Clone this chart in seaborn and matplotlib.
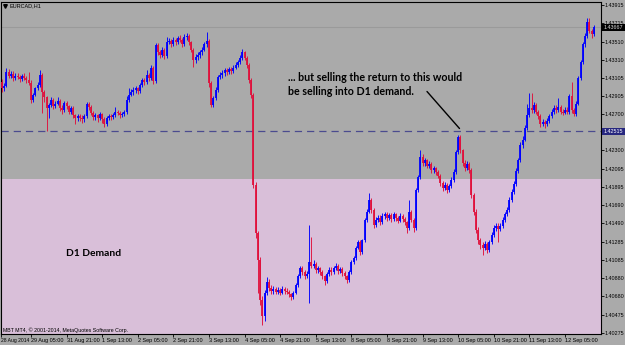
import numpy as np
import pandas as pd
import matplotlib
matplotlib.use("Agg")
import matplotlib.pyplot as plt
import seaborn as sns
from matplotlib.patches import Rectangle
from matplotlib.lines import Line2D

# ---------------- data (EURCAD H1) ----------------
first_open = 1.4306
closes = [
    1.4299, 1.4302, 1.4317, 1.4313, 1.4315, 1.4310, 1.4313, 1.4312, 1.4309, 1.4313,
    1.4310, 1.4308, 1.4305, 1.4286, 1.4292, 1.4299, 1.4303, 1.4314, 1.4295, 1.4289,
    1.4277, 1.4280, 1.4286, 1.4279, 1.4282, 1.4285, 1.4277, 1.4275, 1.4283, 1.4279,
    1.4273, 1.4277, 1.4269, 1.4266, 1.4268, 1.4266, 1.4265, 1.4268, 1.4282, 1.4278,
    1.4272, 1.4267, 1.4269, 1.4266, 1.4270, 1.4265, 1.4259, 1.4266, 1.4268, 1.4267,
    1.4269, 1.4273, 1.4272, 1.4269, 1.4270, 1.4273, 1.4286, 1.4292, 1.4295, 1.4297,
    1.4299, 1.4296, 1.4303, 1.4308, 1.4306, 1.4314, 1.4310, 1.4322, 1.4307, 1.4347,
    1.4339, 1.4336, 1.4342, 1.4335, 1.4350, 1.4352, 1.4348, 1.4353, 1.4350, 1.4355,
    1.4353, 1.4348, 1.4356, 1.4357, 1.4350, 1.4342, 1.4330, 1.4334, 1.4336, 1.4339,
    1.4342, 1.4348, 1.4352, 1.4305, 1.4280, 1.4288, 1.4297, 1.4312, 1.4314, 1.4316,
    1.4319, 1.4317, 1.4320, 1.4318, 1.4322, 1.4325, 1.4328, 1.4333, 1.4339, 1.4333,
    1.4325, 1.4308, 1.4292, 1.4192, 1.4138, 1.4108, 1.4064, 1.4046, 1.4072, 1.4084,
    1.4077, 1.4074, 1.4076, 1.4073, 1.4075, 1.4072, 1.4076, 1.4074, 1.4073, 1.4070,
    1.4067, 1.4072, 1.4080, 1.4090, 1.4099, 1.4095, 1.4090, 1.4093, 1.4106, 1.4102,
    1.4104, 1.4097, 1.4099, 1.4095, 1.4090, 1.4085, 1.4093, 1.4097, 1.4095, 1.4099,
    1.4102, 1.4096, 1.4098, 1.4094, 1.4090, 1.4086, 1.4095, 1.4106, 1.4110, 1.4122,
    1.4128, 1.4117, 1.4130, 1.4153, 1.4162, 1.4175, 1.4164, 1.4147, 1.4153, 1.4155,
    1.4150, 1.4157, 1.4159, 1.4155, 1.4158, 1.4154, 1.4159, 1.4155, 1.4152, 1.4157,
    1.4154, 1.4150, 1.4144, 1.4162, 1.4153, 1.4144, 1.4186, 1.4200, 1.4223, 1.4216,
    1.4219, 1.4213, 1.4215, 1.4208, 1.4210, 1.4206, 1.4202, 1.4194, 1.4188, 1.4192,
    1.4186, 1.4190, 1.4197, 1.4206, 1.4228, 1.4245, 1.4230, 1.4216, 1.4210, 1.4215,
    1.4208, 1.4180, 1.4162, 1.4142, 1.4130, 1.4125, 1.4122, 1.4126, 1.4119, 1.4128,
    1.4136, 1.4144, 1.4146, 1.4143, 1.4146, 1.4153, 1.4159, 1.4164, 1.4175, 1.4184,
    1.4193, 1.4207, 1.4219, 1.4236, 1.4242, 1.4255, 1.4269, 1.4277, 1.4275, 1.4280,
    1.4273, 1.4268, 1.4259, 1.4262, 1.4259, 1.4263, 1.4268, 1.4273, 1.4277, 1.4275,
    1.4278, 1.4273, 1.4272, 1.4275, 1.4273, 1.4290, 1.4275, 1.4270, 1.4282, 1.4310,
    1.4328, 1.4348, 1.4357, 1.4373, 1.4363, 1.4359, 1.4367,
]
highs = [
    1.4309, 1.4305, 1.4322, 1.4320, 1.4318, 1.4318, 1.4316, 1.4316, 1.4314, 1.4315,
    1.4316, 1.4313, 1.4317, 1.4308, 1.4294, 1.4301, 1.4306, 1.4319, 1.4316, 1.4297,
    1.4291, 1.4283, 1.4289, 1.4288, 1.4285, 1.4289, 1.4287, 1.4280, 1.4285, 1.4285,
    1.4281, 1.4279, 1.4279, 1.4271, 1.4271, 1.4270, 1.4269, 1.4271, 1.4284, 1.4284,
    1.4280, 1.4274, 1.4272, 1.4271, 1.4273, 1.4272, 1.4267, 1.4268, 1.4271, 1.4270,
    1.4272, 1.4278, 1.4275, 1.4274, 1.4273, 1.4275, 1.4290, 1.4299, 1.4298, 1.4300,
    1.4302, 1.4301, 1.4305, 1.4311, 1.4311, 1.4319, 1.4316, 1.4325, 1.4324, 1.4349,
    1.4349, 1.4342, 1.4345, 1.4344, 1.4356, 1.4355, 1.4354, 1.4356, 1.4355, 1.4357,
    1.4358, 1.4355, 1.4359, 1.4360, 1.4359, 1.4352, 1.4344, 1.4337, 1.4339, 1.4342,
    1.4345, 1.4351, 1.4362, 1.4354, 1.4307, 1.4291, 1.4300, 1.4314, 1.4317, 1.4319,
    1.4322, 1.4322, 1.4323, 1.4323, 1.4325, 1.4328, 1.4331, 1.4336, 1.4343, 1.4341,
    1.4335, 1.4327, 1.4310, 1.4294, 1.4195, 1.4141, 1.4112, 1.4068, 1.4075, 1.4089,
    1.4087, 1.4080, 1.4079, 1.4078, 1.4078, 1.4077, 1.4079, 1.4078, 1.4077, 1.4075,
    1.4072, 1.4074, 1.4083, 1.4093, 1.4102, 1.4102, 1.4097, 1.4096, 1.4147, 1.4134,
    1.4108, 1.4106, 1.4102, 1.4101, 1.4097, 1.4092, 1.4095, 1.4100, 1.4100, 1.4102,
    1.4105, 1.4104, 1.4101, 1.4100, 1.4096, 1.4092, 1.4097, 1.4108, 1.4113, 1.4124,
    1.4131, 1.4130, 1.4132, 1.4155, 1.4165, 1.4183, 1.4177, 1.4166, 1.4156, 1.4158,
    1.4158, 1.4160, 1.4162, 1.4162, 1.4161, 1.4160, 1.4162, 1.4161, 1.4157, 1.4160,
    1.4159, 1.4156, 1.4152, 1.4175, 1.4164, 1.4155, 1.4188, 1.4203, 1.4230, 1.4226,
    1.4222, 1.4221, 1.4218, 1.4217, 1.4213, 1.4212, 1.4208, 1.4204, 1.4196, 1.4195,
    1.4194, 1.4193, 1.4200, 1.4209, 1.4230, 1.4247, 1.4247, 1.4232, 1.4219, 1.4218,
    1.4217, 1.4210, 1.4183, 1.4165, 1.4145, 1.4133, 1.4128, 1.4129, 1.4128, 1.4131,
    1.4139, 1.4147, 1.4149, 1.4149, 1.4149, 1.4156, 1.4162, 1.4167, 1.4178, 1.4187,
    1.4196, 1.4210, 1.4222, 1.4239, 1.4246, 1.4258, 1.4282, 1.4294, 1.4294, 1.4284,
    1.4283, 1.4275, 1.4270, 1.4265, 1.4264, 1.4266, 1.4271, 1.4276, 1.4280, 1.4280,
    1.4288, 1.4280, 1.4276, 1.4278, 1.4278, 1.4293, 1.4306, 1.4277, 1.4285, 1.4313,
    1.4331, 1.4351, 1.4360, 1.4377, 1.4377, 1.4365, 1.4369,
]
lows = [
    1.4295, 1.4296, 1.4300, 1.4310, 1.4311, 1.4307, 1.4308, 1.4309, 1.4306, 1.4307,
    1.4308, 1.4305, 1.4303, 1.4283, 1.4284, 1.4290, 1.4297, 1.4301, 1.4272, 1.4284,
    1.4252, 1.4266, 1.4278, 1.4276, 1.4277, 1.4280, 1.4274, 1.4271, 1.4273, 1.4276,
    1.4270, 1.4271, 1.4266, 1.4259, 1.4263, 1.4263, 1.4261, 1.4262, 1.4266, 1.4275,
    1.4269, 1.4264, 1.4264, 1.4262, 1.4264, 1.4261, 1.4256, 1.4257, 1.4264, 1.4264,
    1.4265, 1.4267, 1.4269, 1.4266, 1.4267, 1.4268, 1.4271, 1.4284, 1.4290, 1.4292,
    1.4294, 1.4293, 1.4294, 1.4301, 1.4303, 1.4304, 1.4307, 1.4308, 1.4304, 1.4305,
    1.4336, 1.4333, 1.4334, 1.4332, 1.4333, 1.4348, 1.4345, 1.4346, 1.4347, 1.4348,
    1.4350, 1.4345, 1.4346, 1.4353, 1.4347, 1.4339, 1.4323, 1.4327, 1.4331, 1.4333,
    1.4336, 1.4340, 1.4345, 1.4300, 1.4278, 1.4278, 1.4286, 1.4295, 1.4309, 1.4311,
    1.4313, 1.4314, 1.4315, 1.4315, 1.4316, 1.4320, 1.4323, 1.4326, 1.4331, 1.4330,
    1.4322, 1.4305, 1.4288, 1.4188, 1.4133, 1.4072, 1.4058, 1.4036, 1.4040, 1.4069,
    1.4074, 1.4071, 1.4071, 1.4070, 1.4070, 1.4069, 1.4070, 1.4071, 1.4070, 1.4067,
    1.4064, 1.4065, 1.4070, 1.4078, 1.4088, 1.4092, 1.4087, 1.4088, 1.4060, 1.4099,
    1.4099, 1.4094, 1.4094, 1.4092, 1.4087, 1.4081, 1.4083, 1.4091, 1.4092, 1.4093,
    1.4097, 1.4093, 1.4094, 1.4091, 1.4087, 1.4083, 1.4084, 1.4093, 1.4104, 1.4108,
    1.4120, 1.4114, 1.4115, 1.4128, 1.4150, 1.4160, 1.4161, 1.4144, 1.4145, 1.4150,
    1.4147, 1.4148, 1.4154, 1.4152, 1.4153, 1.4151, 1.4152, 1.4152, 1.4149, 1.4150,
    1.4151, 1.4147, 1.4138, 1.4142, 1.4150, 1.4139, 1.4142, 1.4184, 1.4198, 1.4213,
    1.4213, 1.4210, 1.4210, 1.4205, 1.4205, 1.4203, 1.4199, 1.4191, 1.4185, 1.4186,
    1.4183, 1.4184, 1.4188, 1.4195, 1.4204, 1.4226, 1.4227, 1.4213, 1.4207, 1.4208,
    1.4205, 1.4177, 1.4158, 1.4138, 1.4126, 1.4121, 1.4114, 1.4119, 1.4116, 1.4117,
    1.4126, 1.4134, 1.4141, 1.4128, 1.4140, 1.4144, 1.4151, 1.4157, 1.4162, 1.4173,
    1.4182, 1.4191, 1.4205, 1.4217, 1.4233, 1.4240, 1.4253, 1.4267, 1.4272, 1.4272,
    1.4270, 1.4265, 1.4256, 1.4257, 1.4255, 1.4257, 1.4261, 1.4266, 1.4271, 1.4272,
    1.4273, 1.4270, 1.4269, 1.4270, 1.4270, 1.4271, 1.4272, 1.4268, 1.4268, 1.4280,
    1.4308, 1.4326, 1.4345, 1.4355, 1.4360, 1.4355, 1.4357,
]
xtick_bars = [-0.4, 13, 29, 45, 61, 77, 93, 109, 125, 141, 157, 173, 189, 205, 221, 237, 253]
xtick_labels = ["28 Aug 2014", "29 Aug 05:00", "31 Aug 21:00", "1 Sep 13:00", "2 Sep 05:00",
                "2 Sep 21:00", "3 Sep 13:00", "4 Sep 05:00", "4 Sep 21:00", "5 Sep 13:00",
                "8 Sep 05:00", "8 Sep 21:00", "9 Sep 13:00", "10 Sep 05:00", "10 Sep 21:00",
                "11 Sep 13:00", "12 Sep 05:00"]
ytick_values = [1.43915, 1.43715, 1.43510, 1.43310, 1.43105, 1.42905, 1.42700, 1.42300,
                1.42095, 1.41895, 1.41690, 1.41490, 1.41285, 1.41085, 1.40880, 1.40680,
                1.40475, 1.40275]
demand_top = 1.41979
level_price = 1.42515
bid_price = 1.43667
symbol_title = "EURCAD,H1"
note_lines = ["... but selling the return to this would", "be selling into D1 demand."]
zone_label = "D1 Demand"
copyright_text = "MBT MT4, \u00a9 2001-2014, MetaQuotes Software Corp."

# ---------------- frame ----------------
opens = [first_open] + closes[:-1]
df = pd.DataFrame({"bar": np.arange(len(closes)), "open": opens, "high": highs,
                   "low": lows, "close": closes})
df["bull"] = df["close"] >= df["open"]

sns.set_theme(style="white")
plt.rcParams["font.family"] = ["Liberation Sans", "DejaVu Sans"]
plt.rcParams["lines.scale_dashes"] = False

W, H = 625, 345
GRAY = "#aaaaaa"
PINK = "#d9bfd9"
BLUE = "#0000ff"
RED = "#e0103c"

fig = plt.figure(figsize=(W / 100, H / 100), dpi=100)
fig.patch.set_facecolor(GRAY)
ax = fig.add_axes([1 / W, 1 - 334 / H, 600 / W, 332 / H])
ax.set_facecolor(GRAY)

ymin, ymax = 1.40261, 1.43949
ax.set_xlim(-0.45, 269.2)
ax.set_ylim(ymin, ymax)

# demand zone
ax.axhspan(ymin - 0.01, demand_top, color=PINK, lw=0, zorder=0)
# bid line and level
ax.axhline(bid_price, color="#9a9a9a", lw=0.8, zorder=1)
ax.axhline(level_price, color="#4b4b8f", lw=0.9, dashes=(5.2, 3.6), zorder=1)

# candles: wicks and bodies as vertical segments
cols = np.where(df["bull"], BLUE, RED)
ax.vlines(df["bar"], df["low"], df["high"], colors=cols, lw=0.65, zorder=3)
body_lo = np.minimum(df["open"], df["close"])
body_hi = np.maximum(np.maximum(df["open"], df["close"]), body_lo + 0.00004)
bodies = ax.vlines(df["bar"], body_lo, body_hi, colors=cols, lw=1.3, zorder=4)
bodies.set_capstyle("butt")

# axes styling
for s in ax.spines.values():
    s.set_visible(True)
    s.set_color("black")
    s.set_linewidth(0.8)
ax.yaxis.tick_right()
ax.set_yticks(ytick_values)
ax.set_yticklabels([f"{v:.5f}" for v in ytick_values])
ax.set_xticks(xtick_bars)
ax.set_xticklabels(xtick_labels)
ax.tick_params(axis="y", which="both", right=True, left=False, length=2.0, width=0.6,
               pad=0.8, labelsize=3.9, colors="black")
ax.tick_params(axis="x", which="both", bottom=True, length=2.2, width=0.6, pad=1.0,
               labelsize=4.0, colors="black")
xt_lbls = ax.get_xticklabels()
for lbl in xt_lbls:
    lbl.set_ha("left")
xt_lbls[0].set_fontsize(3.65)
ax.grid(False)
ax.set_xlabel("")
ax.set_ylabel("")

# price boxes on the axis
def fig_box(y_top, y_bot, face, text, tcolor):
    fig.add_artist(Rectangle((602 / W, 1 - y_bot / H), 23 / W, (y_bot - y_top) / H,
                             transform=fig.transFigure, facecolor=face, edgecolor="none"))
    fig.text(603.5 / W, 1 - (y_top + y_bot) / 2 / H, text, fontsize=3.9, color=tcolor,
             va="center", ha="left")

fig_box(23.8, 31.0, "black", f"{bid_price:.5f}", "#d8d8d8")
fig_box(127.8, 135.0, "#27277f", f"{level_price:.5f}", "white")

# texts
fig.add_artist(Line2D([5 / W], [1 - 6 / H], marker="v", ms=2.6, color="black",
                      linestyle="none", transform=fig.transFigure))
fig.text(10 / W, 1 - 6.2 / H, symbol_title, fontsize=4.0, va="center", ha="left", color="black")
fig.text(3 / W, 1 - 330.5 / H, copyright_text, fontsize=3.75, va="center", ha="left", color="black")
fig.text(288 / W, 1 - 77.5 / H, note_lines[0], fontsize=7.7, fontweight="bold",
         family=["Lato", "DejaVu Sans"], va="center", ha="left", color="black")
fig.text(288 / W, 1 - 91.5 / H, note_lines[1], fontsize=7.7, fontweight="bold",
         family=["Lato", "DejaVu Sans"], va="center", ha="left", color="black")
fig.text(66 / W, 1 - 253 / H, zone_label, fontsize=7.4, fontweight="bold",
         family=["Lato", "DejaVu Sans"], va="center", ha="left", color="black")
fig.add_artist(Line2D([427 / W, 459.5 / W], [1 - 91.5 / H, 1 - 128.5 / H], color="black",
                      lw=1.0, transform=fig.transFigure))

fig.savefig("out.png", dpi=100, facecolor=GRAY)
